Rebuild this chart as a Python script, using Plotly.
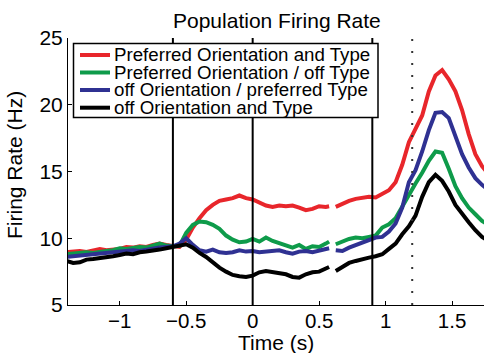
import plotly.graph_objects as go

# Time bins (s): before the break (aligned to stimulus) and after it
t_pre = [-1.40, -1.35, -1.30, -1.25, -1.20, -1.15, -1.10, -1.05, -1.00, -0.95,
         -0.90, -0.85, -0.80, -0.75, -0.70, -0.65, -0.60, -0.55, -0.50, -0.45,
         -0.40, -0.35, -0.30, -0.25, -0.20, -0.15, -0.10, -0.05, 0.00, 0.05,
         0.10, 0.15, 0.20, 0.25, 0.30, 0.35, 0.40, 0.45, 0.50, 0.55, 0.575]
t_post = [0.625, 0.675, 0.725, 0.775, 0.825, 0.875, 0.925, 0.975, 1.025, 1.075,
          1.125, 1.175, 1.225, 1.275, 1.325, 1.375, 1.425, 1.475, 1.525, 1.575,
          1.625, 1.675, 1.725, 1.775]

series_names = [
    "Preferred Orientation and Type",
    "Preferred Orientation / off Type",
    "off Orientation / preferred Type",
    "off Orientation and Type",
]
series_colors = ["#e8262b", "#0e9b4a", "#2f3192", "#000000"]

# Firing rate (Hz)
pref_both_pre = [8.95, 9.0, 9.05, 8.98, 9.1, 9.2, 9.1, 9.15, 9.2, 9.35,
                 9.3, 9.4, 9.35, 9.5, 9.6, 9.5, 9.4, 9.35, 9.9, 10.8,
                 11.5, 12.1, 12.5, 12.8, 12.9, 13.0, 13.2, 13.0, 12.9, 12.7,
                 12.45, 12.35, 12.45, 12.4, 12.45, 12.3, 12.1, 12.2, 12.4, 12.35, 12.4]
pref_both_post = [12.35, 12.6, 12.8, 12.95, 13.0, 13.1, 13.05, 13.3, 13.6, 14.2,
                  15.5, 17.2, 18.2, 19.2, 21.0, 22.2, 22.6, 21.9, 21.0, 19.6,
                  17.8, 16.3, 15.4, 14.8]

pref_ori_pre = [8.8, 8.85, 8.9, 8.95, 8.9, 9.0, 9.05, 9.1, 9.25, 9.2,
                9.3, 9.35, 9.3, 9.45, 9.6, 9.45, 9.4, 9.45, 10.4, 11.0,
                11.25, 11.2, 11.0, 10.7, 10.2, 9.9, 9.7, 9.75, 9.95, 9.75,
                10.05, 9.8, 9.65, 9.45, 9.3, 9.5, 9.2, 9.4, 9.35, 9.6, 9.75]
pref_ori_post = [9.55, 9.75, 9.95, 10.05, 10.0, 10.1, 10.2, 10.8, 11.05, 11.5,
                 12.4, 13.3, 14.1, 14.9, 15.8, 16.5, 16.4, 15.2, 13.9, 13.0,
                 12.3, 11.8, 11.3, 11.0]

pref_type_pre = [8.6, 8.65, 8.7, 8.75, 8.8, 8.85, 8.9, 8.95, 9.0, 9.05,
                 9.1, 9.05, 9.15, 9.2, 9.3, 9.35, 9.4, 9.6, 10.0, 9.5,
                 9.1, 9.0, 9.15, 8.95, 8.9, 8.95, 9.1, 9.0, 9.05, 8.95,
                 9.0, 9.05, 9.1, 8.95, 8.85, 9.0, 9.05, 8.95, 9.1, 9.2, 9.25]
pref_type_post = [9.1, 9.05, 9.3, 9.5, 9.7, 9.9, 10.05, 10.1, 10.5, 11.1,
                  12.3, 14.2, 15.1, 16.5, 18.1, 19.4, 19.45, 19.0, 17.6, 16.3,
                  15.3, 14.5, 14.0, 13.6]

off_both_pre = [8.3, 8.15, 8.2, 8.4, 8.45, 8.5, 8.6, 8.65, 8.75, 8.85,
                8.8, 8.95, 9.0, 9.05, 9.15, 9.25, 9.35, 9.4, 9.55, 9.3,
                8.9, 8.6, 8.2, 7.8, 7.5, 7.25, 7.15, 7.1, 7.2, 7.45,
                7.55, 7.45, 7.35, 7.3, 7.1, 7.05, 7.3, 7.45, 7.5, 7.7, 7.85]
off_both_post = [7.55, 7.85, 8.15, 8.3, 8.45, 8.55, 8.65, 8.8, 9.2, 9.6,
                 10.3, 10.9, 11.7, 13.1, 14.2, 14.75, 14.3, 13.5, 12.5, 11.8,
                 11.2, 10.6, 10.1, 9.8]

pre_values = [pref_both_pre, pref_ori_pre, pref_type_pre, off_both_pre]
post_values = [pref_both_post, pref_ori_post, pref_type_post, off_both_post]

event_times = [-0.6, 0.0, 0.9]
dotted_time = 1.2

x_ticks = [-1, -0.5, 0, 0.5, 1, 1.5]
y_ticks = [5, 10, 15, 20, 25]
x_range = [-1.389, 1.74]
y_range = [5, 25]

FONT = "Liberation Sans, Arial, Helvetica, sans-serif"

fig = go.Figure()

# black trace last so it sits on top
for name, color, pre, post in zip(series_names, series_colors, pre_values, post_values):
    fig.add_trace(go.Scatter(
        x=t_pre + [None] + t_post,
        y=pre + [None] + post,
        mode="lines",
        name=name,
        line=dict(color=color, width=4),
        connectgaps=False,
        showlegend=False,
    ))

shapes = []
for et in event_times:
    shapes.append(dict(type="line", xref="x", yref="paper", x0=et, x1=et, y0=0, y1=1,
                       line=dict(color="black", width=2), layer="above"))
shapes.append(dict(type="line", xref="x", yref="paper", x0=dotted_time, x1=dotted_time,
                   y0=0, y1=1, line=dict(color="#333333", width=2, dash="2px,10px"),
                   layer="above"))

# legend box in plot-area pixel terms (plot area: 416 x 267 px)
PW, PH = 416.0, 267.0


def px_x(px):
    return (px - 68) / PW


def px_y(py):
    return (305 - py) / PH


shapes.append(dict(type="rect", xref="paper", yref="paper",
                   x0=px_x(73.5), x1=px_x(378), y0=px_y(117.5), y1=px_y(43.5),
                   fillcolor="white", line=dict(color="black", width=1.5), layer="above"))

annotations = []
row_y = [54.5, 72.0, 89.5, 107.2]
for name, color, ry in zip(series_names, series_colors, row_y):
    shapes.append(dict(type="line", xref="paper", yref="paper",
                       x0=px_x(80), x1=px_x(110), y0=px_y(ry + 0.5), y1=px_y(ry + 0.5),
                       line=dict(color=color, width=4), layer="above"))
    annotations.append(dict(text=name, xref="paper", yref="paper",
                            x=px_x(112), y=px_y(ry), xanchor="left", yanchor="middle",
                            showarrow=False, font=dict(size=18.7, color="black", family=FONT)))

annotations.append(dict(text="Population Firing Rate", xref="paper", yref="paper",
                        x=px_x(277), y=px_y(20), xanchor="center", yanchor="middle",
                        showarrow=False, font=dict(size=21, color="black", family=FONT)))
annotations.append(dict(text="Time (s)", xref="paper", yref="paper",
                        x=px_x(276), y=px_y(342), xanchor="center", yanchor="middle",
                        showarrow=False, font=dict(size=21, color="black", family=FONT)))
annotations.append(dict(text="Firing Rate (Hz)", xref="paper", yref="paper",
                        x=px_x(14), y=px_y(165), xanchor="center", yanchor="middle",
                        textangle=-90, showarrow=False,
                        font=dict(size=21, color="black", family=FONT)))

fig.update_layout(
    width=484, height=353,
    margin=dict(l=68, r=0, t=38, b=48),
    paper_bgcolor="white", plot_bgcolor="white",
    font=dict(family=FONT, size=21, color="black"),
    showlegend=False,
    shapes=shapes,
    annotations=annotations,
    xaxis=dict(range=x_range, tickvals=x_ticks, showgrid=False, zeroline=False,
               showline=True, linecolor="black", linewidth=1, ticks="inside",
               ticklen=4, tickcolor="black", tickfont=dict(size=20.5), mirror=False,
               ticklabelstandoff=-3),
    yaxis=dict(range=y_range, tickvals=y_ticks, showgrid=False, zeroline=False,
               showline=True, linecolor="black", linewidth=1, ticks="inside",
               ticklen=4, tickcolor="black", tickfont=dict(size=21), mirror=False),
)

fig.write_html("out.html")
